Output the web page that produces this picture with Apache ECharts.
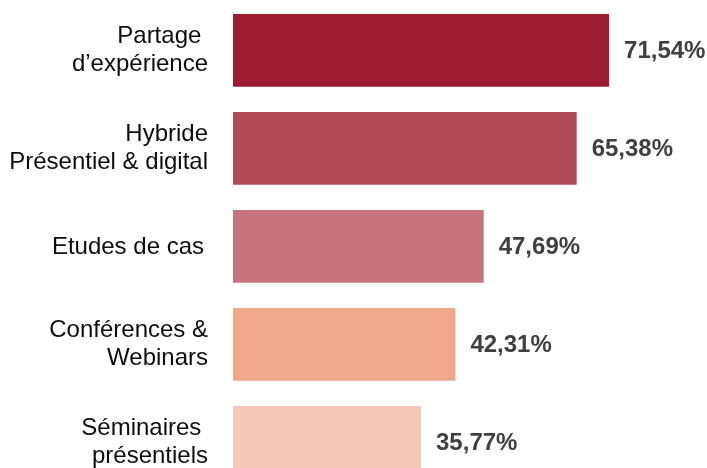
<!DOCTYPE html>
<html>
<head>
<meta charset="utf-8">
<script src="https://cdn.jsdelivr.net/npm/echarts@6/dist/echarts.min.js"></script>
<style>
html,body{margin:0;padding:0;background:#fff;}
#c{width:707px;height:468px;}
</style>
</head>
<body>
<div id="c"></div>
<script>
var categories = ['Partage \nd\u2019expérience', 'Hybride\nPrésentiel & digital', 'Etudes de cas', 'Conférences &\nWebinars', 'Séminaires \nprésentiels'];
var values = [71.54, 65.38, 47.69, 42.31, 35.77];
var colors = ['#9E1C2F', '#B04A57', '#C6747E', '#F0A88B', '#F4C7B9'];

var chart = echarts.init(document.getElementById('c'), null, {renderer: 'canvas'});
chart.setOption({
  animation: false,
  grid: {left: 233, top: 1.3, width: 420.5, height: 490, containLabel: false, outerBoundsMode: 'none'},
  xAxis: {
    type: 'value', min: 0, max: 80, show: false
  },
  yAxis: {
    type: 'category', inverse: true,
    data: categories,
    axisLine: {show: false}, axisTick: {show: false}, splitLine: {show: false},
    axisLabel: {
      margin: 25, align: 'right',
      fontFamily: 'Liberation Sans, Arial, sans-serif',
      fontSize: 24, lineHeight: 27.6, color: '#0d0d0d',
      formatter: function (v) { return v === 'Etudes de cas' ? '{e|' + v + '}' : v; },
      rich: {
        e: {fontFamily: 'Liberation Sans, Arial, sans-serif', fontSize: 24, lineHeight: 27.6,
            color: '#0d0d0d', padding: [2, 4, 0, 0]}
      }
    }
  },
  series: [{
    type: 'bar',
    barWidth: 72.7,
    data: values.map(function (v, i) { return {value: v, itemStyle: {color: colors[i]}}; }),
    label: {
      show: true, position: 'right', distance: 15, offset: [0, 1.5],
      formatter: function (p) { return p.value.toFixed(2).replace('.', ',') + '%'; },
      fontFamily: 'Liberation Sans, Arial, sans-serif',
      fontSize: 24, fontWeight: 'bold', color: '#404040'
    }
  }]
});
</script>
</body>
</html>
